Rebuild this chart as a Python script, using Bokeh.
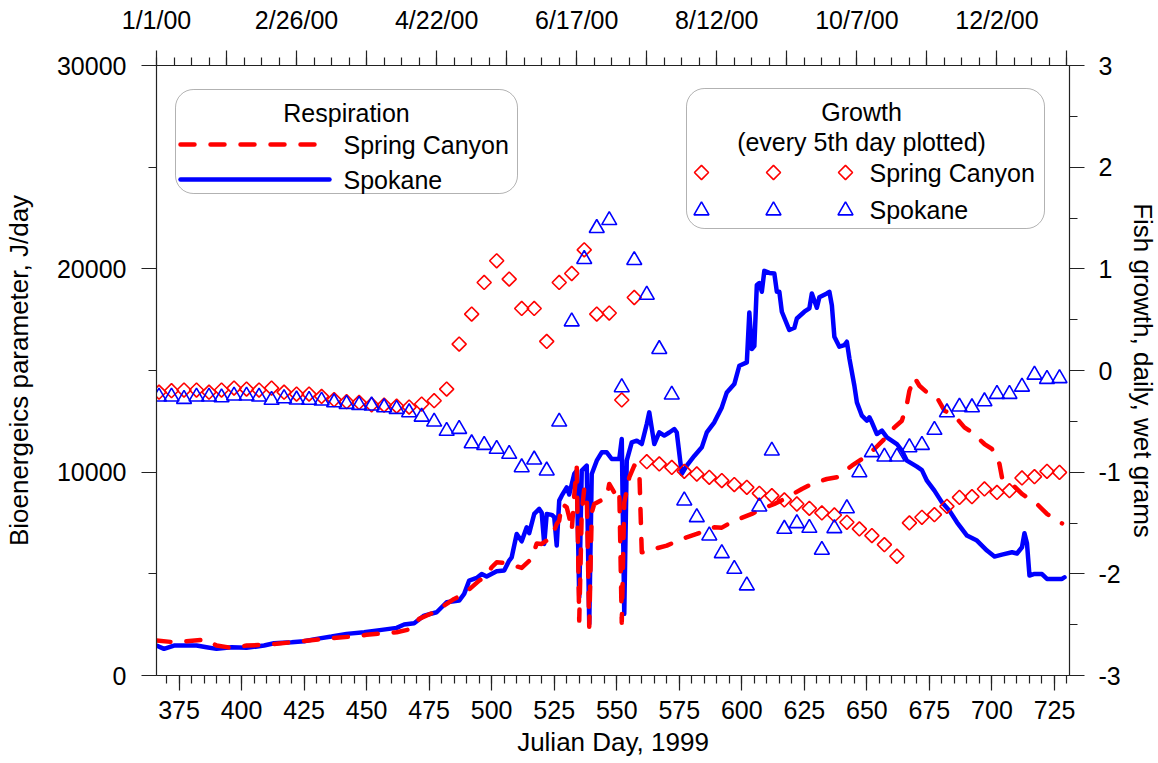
import numpy as np
from bokeh.plotting import figure
from bokeh.models import Range1d, LinearAxis, FixedTicker, BoxAnnotation, Label
from bokeh.embed import file_html
from bokeh.resources import INLINE

# ---------------- data ----------------
resp_spokane_day = [366, 369, 373, 382, 386, 390, 396, 402, 409, 413, 420, 425, 430, 436, 442, 449, 456, 462,
                    465, 469, 473, 478, 480, 482, 487, 489, 491, 494, 496, 498, 502, 505, 507, 508, 510, 512,
                    514, 515, 517, 519, 520, 521, 522, 524, 525, 526, 527, 528, 530, 531, 533, 534, 535, 536,
                    538, 539, 540, 542, 544, 546, 548, 551, 552, 553, 554, 556, 558, 560, 562, 563, 565, 567,
                    569, 571, 573, 574, 576, 578, 581, 584, 586, 589, 592, 594, 597, 599, 602, 603, 604, 605,
                    606, 607, 608, 609, 611, 613, 614, 615, 616, 619, 621, 622, 625, 627, 628, 630, 631, 634,
                    635, 636, 637, 639, 641, 642, 643, 645, 646, 648, 650, 651, 652, 654, 656, 658, 662, 664,
                    666, 670, 672, 674, 677, 680, 683, 686, 690, 694, 698, 701, 704, 708, 710, 712, 713, 714,
                    715, 717, 720, 722, 728, 729]
resp_spokane = [1474, 1310, 1474, 1474, 1392, 1310, 1392, 1359, 1474, 1589, 1638, 1687, 1802, 1916, 2047, 2129,
                2244, 2342, 2506, 2572, 2948, 3112, 3358, 3604, 3686, 4013, 4668, 4799, 4996, 4865, 5127, 5160,
                5651, 5813, 6962, 6600, 7288, 7000, 7945, 8191, 8000, 6472, 7945, 7900, 7800, 6388, 8600, 8845,
                9254, 8900, 9912, 10074, 3848, 10074, 10320, 2540, 9912, 10565, 10975, 10975, 10648, 10648,
                11631, 3032, 10565, 11467, 11550, 11385, 12369, 12943, 11385, 11958, 11800, 11950, 12123, 11950,
                9912, 10320, 10800, 11221, 11958, 12450, 13186, 13923, 14333, 15233, 15397, 17853, 16053, 16200,
                19201, 19300, 18873, 19900, 19800, 19770, 18873, 18873, 17890, 16990, 17100, 17557, 17890, 18053,
                18790, 18086, 18600, 18790, 18873, 18200, 16660, 16169, 16250, 16414, 15600, 14251, 13431, 12777,
                12531, 12700, 12450, 11876, 12040, 11712, 11385, 11057, 10565, 10270, 10100, 9582, 9091, 8516,
                8108, 7533, 6880, 6634, 6143, 5848, 5946, 6060, 6000, 6307, 6995, 6500, 4914, 4997, 4990, 4750,
                4750, 4832]

resp_spring_day = [366, 373, 378, 386, 390, 396, 402, 409, 414, 424, 433, 438, 444, 450, 457, 462, 468, 471,
                   477, 480, 485, 489, 495, 498, 500, 502, 506, 512, 516, 518, 520, 524, 526, 527, 528, 530,
                   531, 532, 533, 534, 535, 536, 537, 538, 539, 540, 541, 546, 547, 549, 551, 552, 553, 555,
                   557, 559, 560, 562, 565, 570, 576, 582, 589, 592, 597, 604, 608, 613, 617, 624, 628, 634,
                   638, 644, 648, 653, 657, 661, 664, 666, 667, 669, 671, 674, 678, 681, 685, 689, 692, 697,
                   700, 703, 704, 708, 712, 716, 718, 722, 728]
resp_spring = [1720, 1637, 1687, 1769, 1474, 1359, 1474, 1507, 1556, 1687, 1802, 1851, 1916, 2000, 2080, 2128,
               2293, 2785, 3111, 3357, 3767, 4013, 4668, 4914, 5323, 5568, 5520, 5290, 5750, 6490, 6472, 6800,
               7454, 7617, 8450, 8270, 7780, 7125, 8845, 10237, 2700, 8000, 9190, 9000, 2400, 8000, 8436, 8763,
               9420, 9000, 9200, 2600, 8500, 9745, 10320, 10155, 6060, 6060, 6226, 6388, 6717, 6963, 7290, 7272,
               7617, 7945, 8190, 8436, 8682, 9173, 9420, 9664, 9746, 10320, 10648, 11140, 11631, 12202, 12531,
               13350, 14005, 14660, 14251, 13923, 13677, 13022, 12777, 12202, 11958, 11385, 11140, 10402, 9746,
               9420, 8928, 8600, 8436, 7945, 7484]

growth_day = list(range(367, 728, 5))
growth_spring = [-0.213, -0.199, -0.192, -0.192, -0.213, -0.192, -0.173, -0.183, -0.192, -0.173,
                 -0.213, -0.232, -0.232, -0.255, -0.287, -0.307, -0.314, -0.337, -0.34, -0.35,
                 -0.36, -0.33, -0.297, -0.183, 0.26, 0.555, 0.866, 1.079, 0.899, 0.61,
                 0.61, 0.286, 0.866, 0.954, 1.187, 0.555, 0.565, -0.29, 0.718, -0.897,
                 -0.919, -0.953, -0.992, -1.018, -1.051, -1.083, -1.122, -1.149, -1.208, -1.231,
                 -1.273, -1.313, -1.356, -1.401, -1.421, -1.493, -1.558, -1.624, -1.713, -1.827,
                 -1.499, -1.444, -1.418, -1.336, -1.248, -1.241, -1.165, -1.199, -1.182, -1.057,
                 -1.044, -0.992, -1.002]
growth_spokane = [-0.258, -0.258, -0.281, -0.258, -0.258, -0.265, -0.248, -0.248, -0.258, -0.29,
                  -0.274, -0.287, -0.29, -0.297, -0.314, -0.33, -0.34, -0.346, -0.363, -0.379,
                  -0.412, -0.455, -0.504, -0.595, -0.576, -0.717, -0.733, -0.772, -0.821, -0.953,
                  -0.877, -0.985, -0.504, 0.482, 1.095, 1.40, 1.478, -0.166, 1.085, 0.744,
                  0.21, -0.238, -1.28, -1.444, -1.624, -1.798, -1.952, -2.115, -1.339, -0.789,
                  -1.558, -1.503, -1.549, -1.765, -1.552, -1.356, -1.002, -0.805, -0.848, -0.848,
                  -0.756, -0.733, -0.585, -0.412, -0.356, -0.363, -0.304, -0.232, -0.232, -0.16,
                  -0.042, -0.084, -0.077]

bottom_ticks = [375, 400, 425, 450, 475, 500, 525, 550, 575, 600, 625, 650, 675, 700, 725]
bottom_minor = list(range(370, 731, 5))
top_ticks = [366 + 28 * k for k in range(14)]
top_minor = [366 + 7 * k for k in range(53)]
top_label_days = [366, 422, 478, 534, 590, 646, 702]
top_labels = ["1/1/00", "2/26/00", "4/22/00", "6/17/00", "8/12/00", "10/7/00", "12/2/00"]
left_ticks = [0, 10000, 20000, 30000]
left_minor = [0, 5000, 10000, 15000, 20000, 25000, 30000]
right_ticks = [-3, -2, -1, 0, 1, 2, 3]
right_minor = [-3, -2.5, -2, -1.5, -1, -0.5, 0, 0.5, 1, 1.5, 2, 2.5, 3]

# ---------------- layout ----------------
X0, X1 = 366, 731
FW, FH = 913, 610
PX_L, PX_T = 156, 65          # page position of the frame's top-left corner
FONT = "Liberation Sans"
FS = "25px"
FS_AX = "26px"
AX_COL = "#222222"


def px2x(px):
    return X0 + (px - PX_L) * (X1 - X0) / FW


def py2y(py):
    return (PX_T + FH - py) * 30000 / FH


p = figure(frame_width=FW, frame_height=FH,
           x_range=Range1d(X0, X1), y_range=Range1d(0, 30000),
           x_axis_location=None, y_axis_location=None,
           min_border_left=PX_L, min_border_right=1158 - PX_L - FW,
           min_border_top=PX_T, min_border_bottom=763 - PX_T - FH,
           output_backend="svg", toolbar_location=None)
p.extra_y_ranges = {"g": Range1d(-3, 3)}
p.outline_line_color = None
p.xgrid.visible = False
p.ygrid.visible = False
p.background_fill_color = "white"
p.border_fill_color = "white"


def style(ax, standoff):
    ax.major_tick_out = 15
    ax.major_tick_in = 0
    ax.minor_tick_out = 8
    ax.minor_tick_in = 0
    ax.axis_line_color = AX_COL
    ax.axis_line_width = 1.2
    ax.major_tick_line_color = AX_COL
    ax.minor_tick_line_color = AX_COL
    ax.major_tick_line_width = 1.2
    ax.minor_tick_line_width = 1.2
    ax.major_label_text_font = FONT
    ax.major_label_text_font_size = FS
    ax.major_label_text_color = "black"
    ax.major_label_standoff = standoff
    ax.axis_label_text_font = FONT
    ax.axis_label_text_font_size = FS_AX
    ax.axis_label_text_font_style = "normal"
    ax.axis_label_text_color = "black"


bottom = LinearAxis(ticker=FixedTicker(ticks=bottom_ticks, minor_ticks=bottom_minor),
                    axis_label="Julian Day, 1999")
style(bottom, 10)
bottom.axis_label_standoff = 5
bottom.major_label_overrides = {t: str(t) for t in bottom_ticks}
p.add_layout(bottom, "below")

top = LinearAxis(ticker=FixedTicker(ticks=top_ticks, minor_ticks=top_minor))
style(top, 17)
top.major_label_overrides = {t: (top_labels[top_label_days.index(t)] if t in top_label_days else "")
                             for t in top_ticks}
p.add_layout(top, "above")

left = LinearAxis(ticker=FixedTicker(ticks=left_ticks, minor_ticks=left_minor),
                  axis_label="Bioenergeics parameter, J/day")
style(left, 15)
left.axis_label_standoff = 20
left.major_label_overrides = {t: str(t) for t in left_ticks}
p.add_layout(left, "left")

right = LinearAxis(y_range_name="g", ticker=FixedTicker(ticks=right_ticks, minor_ticks=right_minor),
                   axis_label="Fish growth, daily, wet grams")
style(right, 14)
right.axis_label_standoff = 4
right.major_label_overrides = {t: str(t) for t in right_ticks}
p.add_layout(right, "right")

# ---------------- data marks ----------------
RED = "#FF0000"
BLUE = "#0000FF"
LW = 4.5
DASH = "14 16"

p.line(resp_spokane_day, resp_spokane, line_color=BLUE, line_width=LW, line_join="round", line_cap="round")
p.line(resp_spring_day, resp_spring, line_color=RED, line_width=LW, line_dash=DASH,
       line_join="round", line_cap="round")
p.scatter(growth_day, growth_spring, y_range_name="g", marker="square", angle=np.pi / 4, size=10,
          fill_color=None, line_color=RED, line_width=1.6)
p.scatter(growth_day, growth_spokane, y_range_name="g", marker="triangle", size=15,
          fill_color=None, line_color=BLUE, line_width=1.6)

# ---------------- legends (drawn by hand) ----------------
def label(txt, px, py, align="left"):
    p.add_layout(Label(x=px2x(px), y=py2y(py), text=txt, text_font=FONT, text_font_size=FS,
                       text_color="black", text_align=align, text_baseline="middle"))


p.add_layout(BoxAnnotation(left=px2x(175), right=px2x(517), top=py2y(89), bottom=py2y(193),
                           fill_color=None, line_color="black", line_width=1, border_radius=18))
label("Respiration", 346, 112, "center")
p.line([px2x(180), px2x(321)], [py2y(144), py2y(144)], line_color=RED, line_width=LW,
       line_dash=DASH, line_cap="round")
label("Spring Canyon", 343, 144)
p.line([px2x(180), px2x(329)], [py2y(179), py2y(179)], line_color=BLUE, line_width=LW, line_cap="round")
label("Spokane", 343, 179)

p.add_layout(BoxAnnotation(left=px2x(686), right=px2x(1044), top=py2y(88), bottom=py2y(228),
                           fill_color=None, line_color="black", line_width=1, border_radius=18))
label("Growth", 861, 111, "center")
label("(every 5th day plotted)", 861, 141, "center")
lx = [px2x(701), px2x(773), px2x(845)]
p.scatter(lx, [py2y(172)] * 3, marker="square", angle=np.pi / 4, size=10,
          fill_color=None, line_color=RED, line_width=1.6)
label("Spring Canyon", 869, 172)
p.scatter(lx, [py2y(210)] * 3, marker="triangle", size=15,
          fill_color=None, line_color=BLUE, line_width=1.6)
label("Spokane", 869, 209)

open("out.html", "w").write(file_html(p, INLINE))
